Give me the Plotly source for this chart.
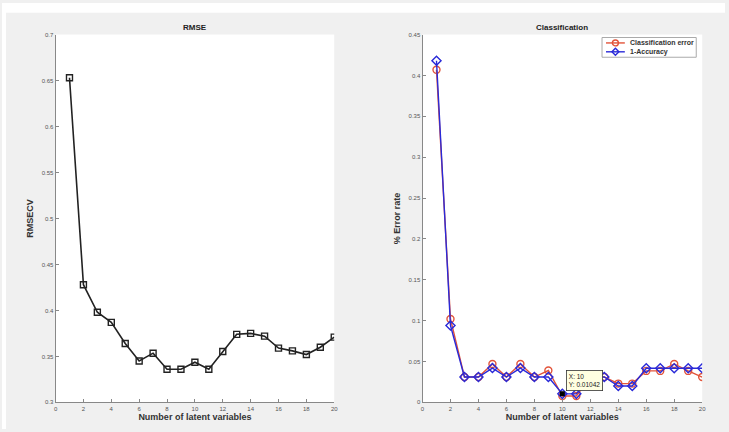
import plotly.graph_objects as go

# Cross-validated RMSE by number of latent variables
n_lv = list(range(1, 21))
rmsecv = [0.653, 0.428, 0.398, 0.387, 0.364, 0.345, 0.3535, 0.336, 0.336, 0.3437,
          0.336, 0.3554, 0.374, 0.375, 0.372, 0.359, 0.356, 0.352, 0.360, 0.371]

# Classification performance by number of latent variables
class_error = [0.407, 0.102, 0.031, 0.031, 0.047, 0.031, 0.047, 0.031, 0.039, 0.0078,
               0.0078, 0.031, 0.031, 0.023, 0.023, 0.0385, 0.0385, 0.047, 0.0385, 0.031]
one_minus_acc = [0.418, 0.094, 0.031, 0.031, 0.042, 0.031, 0.042, 0.031, 0.031, 0.01042,
                 0.01042, 0.031, 0.031, 0.020, 0.020, 0.0417, 0.0417, 0.0417, 0.0417, 0.0417]

series_names = ["Classification error", "1-Accuracy"]
series_colors = ["#e2543a", "#2a2ad8"]

rmse_ticks = [0.3, 0.35, 0.4, 0.45, 0.5, 0.55, 0.6, 0.65, 0.7]
err_ticks = [0, 0.05, 0.1, 0.15, 0.2, 0.25, 0.3, 0.35, 0.4, 0.45]
x_ticks = list(range(0, 21, 2))

tip_x = 10
tip_y = one_minus_acc[tip_x - 1]

W, H = 729, 432


def px_x(p):
    return p / W


def px_y(p):
    return 1 - p / H


fig = go.Figure()

fig.add_trace(go.Scatter(
    x=n_lv, y=rmsecv, mode="lines+markers", xaxis="x", yaxis="y",
    line=dict(color="#222222", width=1.6),
    marker=dict(symbol="square-open", size=6, color="#222222", line=dict(width=1.4)),
    showlegend=False,
))

fig.add_trace(go.Scatter(
    x=n_lv, y=class_error, mode="lines+markers", xaxis="x2", yaxis="y2",
    name=series_names[0], showlegend=False,
    line=dict(color=series_colors[0], width=1.4),
    marker=dict(symbol="circle-open", size=7, color=series_colors[0], line=dict(width=1.4)),
))
fig.add_trace(go.Scatter(
    x=n_lv, y=one_minus_acc, mode="lines+markers", xaxis="x2", yaxis="y2",
    name=series_names[1], showlegend=False,
    line=dict(color=series_colors[1], width=1.4),
    marker=dict(symbol="diamond-open", size=7, color=series_colors[1], line=dict(width=1.4)),
))
# data tip marker
fig.add_trace(go.Scatter(
    x=[tip_x], y=[tip_y], mode="markers", xaxis="x2", yaxis="y2",
    marker=dict(symbol="square", size=5, color="black"),
    showlegend=False, hoverinfo="skip",
))

tick_font = dict(family="Liberation Sans, Arial", size=6, color="#555555")
label_font = dict(family="Liberation Sans, Arial", size=9, color="#333333")

axis_common = dict(
    showgrid=False, zeroline=False, showline=True, linecolor="#888888", linewidth=1,
    mirror=False, ticks="inside", ticklen=3, tickcolor="#888888", tickfont=tick_font,
)

# compact legend box drawn in pixel units
leg_x0, leg_x1, leg_y0, leg_y1 = 605, 700, 35, 55
row_y = [40.5, 49.5]
shapes = [
    dict(type="rect", xref="paper", yref="paper", x0=0, x1=1,
         y0=px_y(10), y1=1, fillcolor="#ffffff", line=dict(width=0), layer="below"),
    dict(type="rect", xref="paper", yref="paper", x0=0, x1=px_x(4),
         y0=0, y1=1, fillcolor="#ffffff", line=dict(width=0), layer="below"),
    dict(type="rect", xref="paper", yref="paper", x0=px_x(leg_x0), x1=px_x(leg_x1),
         y0=px_y(leg_y1), y1=px_y(leg_y0), fillcolor="#ffffff",
         line=dict(color="#aaaaaa", width=1)),
]
annotations = []
for i, (name, col) in enumerate(zip(series_names, series_colors)):
    yy = row_y[i]
    shapes.append(dict(type="line", xref="paper", yref="paper",
                       x0=px_x(609), x1=px_x(628), y0=px_y(yy), y1=px_y(yy),
                       line=dict(color=col, width=1.4)))
    if i == 0:
        shapes.append(dict(type="circle", xref="paper", yref="paper",
                           x0=px_x(615.5), x1=px_x(621.5), y0=px_y(yy + 3), y1=px_y(yy - 3),
                           line=dict(color=col, width=1.4)))
    else:
        cx, cy = 618.5, yy
        path = (f"M {px_x(cx)} {px_y(cy - 3.5)} L {px_x(cx + 3.5)} {px_y(cy)} "
                f"L {px_x(cx)} {px_y(cy + 3.5)} L {px_x(cx - 3.5)} {px_y(cy)} Z")
        shapes.append(dict(type="path", xref="paper", yref="paper", path=path,
                           line=dict(color=col, width=1.4)))
    annotations.append(dict(text=f"<b>{name}</b>", xref="paper", yref="paper",
                            x=px_x(631), y=px_y(yy), xanchor="left", yanchor="middle",
                            showarrow=False,
                            font=dict(family="Liberation Sans, Arial", size=7, color="#333333")))

annotations += [
    dict(text="<b>RMSE</b>", xref="paper", yref="paper", x=px_x(195), y=px_y(25),
         xanchor="center", yanchor="middle", showarrow=False,
         font=dict(family="Liberation Sans, Arial", size=8, color="#222222")),
    dict(text="<b>Classification</b>", xref="paper", yref="paper", x=px_x(565), y=px_y(25),
         xanchor="center", yanchor="middle", showarrow=False,
         font=dict(family="Liberation Sans, Arial", size=8, color="#222222")),
    dict(text=f"X: {tip_x}<br>Y: {tip_y:.5f}",
         xref="x2", yref="y2", x=tip_x, y=tip_y, xanchor="left", yanchor="bottom",
         xshift=4, yshift=3, showarrow=False, align="left",
         bgcolor="#ffffe1", bordercolor="#333333", borderwidth=0.8, borderpad=2,
         font=dict(family="Liberation Sans, Arial", size=6.5, color="#222222")),
]

fig.update_layout(
    width=W, height=H,
    margin=dict(l=0, r=0, t=0, b=0),
    paper_bgcolor="#f0f0f0",
    plot_bgcolor="#ffffff",
    showlegend=False,
    xaxis=dict(domain=[px_x(54), px_x(335)], range=[0, 20], tickvals=x_ticks,
               title=dict(text="<b>Number of latent variables</b>", font=label_font, standoff=3),
               anchor="y", **axis_common),
    yaxis=dict(domain=[px_y(405), px_y(32)], range=[0.3, 0.7], tickvals=rmse_ticks,
               ticktext=[f"{v:g}" for v in rmse_ticks],
               title=dict(text="<b>RMSECV</b>", font=label_font, standoff=6),
               anchor="x", **axis_common),
    xaxis2=dict(domain=[px_x(424), px_x(706)], range=[0, 20], tickvals=x_ticks,
                title=dict(text="<b>Number of latent variables</b>", font=label_font, standoff=3),
                anchor="y2", **axis_common),
    yaxis2=dict(domain=[px_y(405), px_y(32)], range=[0, 0.45], tickvals=err_ticks,
                ticktext=[f"{v:g}" for v in err_ticks],
                title=dict(text="<b>% Error rate</b>", font=label_font, standoff=6),
                anchor="x2", **axis_common),
    shapes=shapes,
    annotations=annotations,
)

fig.write_html("out.html")
